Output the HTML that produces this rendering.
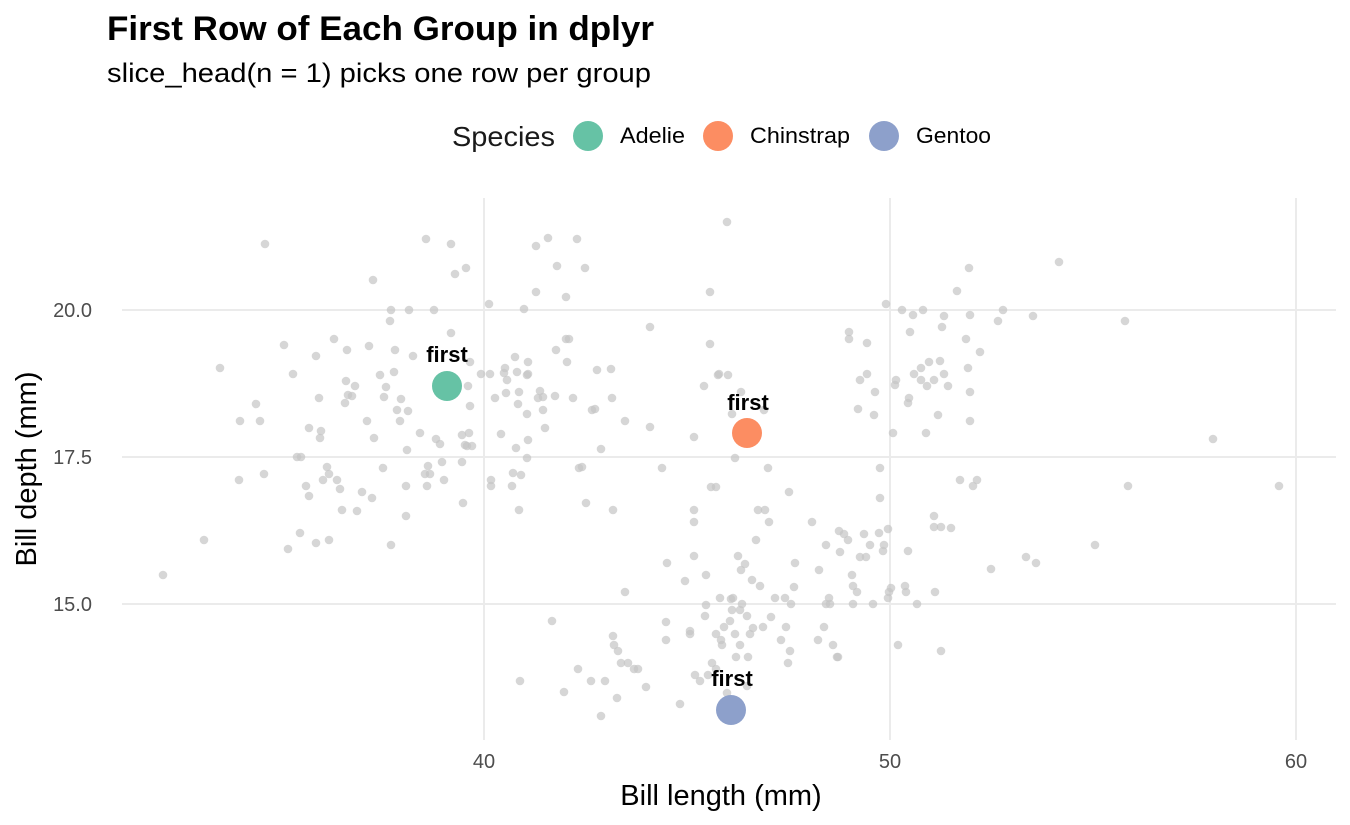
<!DOCTYPE html>
<html><head><meta charset="utf-8"><style>
body{margin:0;background:#fff;}
svg{display:block;font-family:"Liberation Sans",sans-serif;}
</style></head><body>
<svg width="1350" height="825" viewBox="0 0 1350 825">
<rect width="1350" height="825" fill="#fff"/>
<text x="107" y="40" font-size="34" font-weight="bold" fill="#000" textLength="547" lengthAdjust="spacingAndGlyphs">First Row of Each Group in dplyr</text>
<text x="107" y="82" font-size="27" fill="#000" textLength="544" lengthAdjust="spacingAndGlyphs">slice_head(n = 1) picks one row per group</text>
<text x="452" y="146" font-size="28" fill="#1a1a1a" textLength="103" lengthAdjust="spacingAndGlyphs">Species</text>
<circle cx="588" cy="136" r="15" fill="#66C2A5"/>
<text x="620" y="143" font-size="22" fill="#000" textLength="65" lengthAdjust="spacingAndGlyphs">Adelie</text>
<circle cx="718" cy="136" r="15" fill="#FC8D62"/>
<text x="750" y="143" font-size="22" fill="#000" textLength="100" lengthAdjust="spacingAndGlyphs">Chinstrap</text>
<circle cx="884" cy="136" r="15" fill="#8DA0CB"/>
<text x="916" y="143" font-size="22" fill="#000" textLength="75" lengthAdjust="spacingAndGlyphs">Gentoo</text>
<g stroke="#ebebeb" stroke-width="2">
<line x1="484" y1="198" x2="484" y2="740"/><line x1="890" y1="198" x2="890" y2="740"/><line x1="1296" y1="198" x2="1296" y2="740"/>
<line x1="122" y1="310" x2="1336" y2="310"/><line x1="122" y1="457" x2="1336" y2="457"/><line x1="122" y1="604" x2="1336" y2="604"/>
</g>
<g font-size="20" fill="#4d4d4d">
<text x="92" y="317" text-anchor="end">20.0</text><text x="92" y="464" text-anchor="end">17.5</text><text x="92" y="611" text-anchor="end">15.0</text>
<text x="484" y="768" text-anchor="middle">40</text><text x="890" y="768" text-anchor="middle">50</text><text x="1296" y="768" text-anchor="middle">60</text>
</g>
<text x="721" y="805" font-size="29" text-anchor="middle" fill="#000">Bill length (mm)</text>
<text transform="translate(36,469) rotate(-90)" font-size="29" text-anchor="middle" fill="#000">Bill depth (mm)</text>
<g id="pts" fill="#c4c4c4" fill-opacity="0.7"></g>
<circle cx="447" cy="386" r="15" fill="#66C2A5"/>
<circle cx="747" cy="433" r="15" fill="#FC8D62"/>
<circle cx="731" cy="710" r="15" fill="#8DA0CB"/>
<g font-size="22" font-weight="bold" text-anchor="middle" fill="#000">
<text x="447" y="362">first</text><text x="748" y="410">first</text><text x="732" y="686">first</text>
</g>
</svg>
<script>
var p=[[163,575],[204,540],[220,368],[240,421],[256,404],[260,421],[264,474],[239,480],[265,244],[284,345],[288,549],[293,374],[297,457],[301,457],[300,533],[306,486],[309,428],[309,496],[316,356],[316,543],[319,398],[320,438],[321,431],[323,480],[327,467],[329,474],[329,540],[334,339],[337,480],[340,489],[342,510],[345,403],[346,381],[347,350],[348,395],[352,396],[355,386],[357,511],[362,492],[367,421],[369,346],[372,498],[373,280],[374,438],[380,375],[383,468],[384,397],[386,387],[390,321],[391,545],[391,310],[394,372],[395,350],[397,410],[400,421],[401,399],[406,516],[406,486],[407,450],[408,411],[409,310],[413,356],[420,433],[425,474],[426,239],[427,486],[428,466],[430,474],[434,310],[436,439],[439,392],[440,444],[442,462],[444,480],[451,333],[451,244],[455,274],[463,503],[462,435],[462,462],[465,445],[466,268],[467,446],[468,386],[470,406],[469,433],[470,362],[472,446],[481,374],[489,304],[490,374],[491,480],[491,486],[495,398],[501,434],[504,373],[505,368],[506,393],[507,380],[512,486],[513,473],[515,357],[516,448],[517,372],[518,404],[519,392],[519,510],[521,475],[524,309],[527,414],[527,458],[527,375],[528,362],[528,440],[528,374],[536,246],[536,292],[538,398],[540,391],[543,397],[543,410],[545,428],[548,238],[555,396],[556,350],[557,266],[566,297],[566,339],[567,362],[569,339],[573,398],[577,239],[579,468],[582,467],[585,268],[586,503],[592,410],[595,409],[597,370],[601,449],[611,369],[612,398],[613,510],[625,421],[650,327],[650,427],
[520,681],[552,621],[564,692],[578,669],[591,681],[601,716],[605,681],[617,698],[618,651],[625,592],[613,636],[614,645],[621,663],[628,663],[634,669],[638,669],[646,687],[662,468],[667,563],[666,622],[666,640],[680,704],[685,581],[690,631],[690,634],[694,510],[694,522],[694,556],[694,437],[695,675],[700,681],[704,386],[705,616],[706,605],[706,575],[708,675],[710,292],[710,344],[711,487],[712,663],[716,669],[716,634],[716,487],[718,375],[719,374],[720,598],[721,640],[722,645],[724,627],[727,693],[728,375],[727,222],[730,621],[731,599],[732,414],[732,610],[733,598],[735,458],[735,634],[736,657],[738,556],[740,610],[740,645],[741,570],[741,392],[742,604],[745,564],[747,616],[747,686],[748,657],[750,634],[752,580],[753,628],[756,540],[758,510],[760,586],[763,627],[764,410],[765,510],[768,468],[769,522],[771,617],[775,598],[781,640],[785,598],[786,627],[788,663],[789,492],[790,651],[791,604],[794,587],[795,563],[812,522],[818,640],[819,570],[826,545],[824,627],[826,604],[829,598],[830,604],[833,645],[837,657],[838,657],[839,531],[840,552],[844,534],[848,540],[849,339],[849,332],[852,575],[853,586],[853,604],[857,592],[858,409],[860,557],[860,380],[864,534],[866,557],[867,343],[867,374],[870,545],[873,604],[874,415],[875,392],[879,533],[880,468],[880,498],[883,551],[884,545],[886,304],[888,598],[888,529],[889,592],[891,588],[893,433],[895,385],[896,380],[898,645],[902,310],[905,586],[906,592],[908,551],[908,403],[909,398],[910,332],[913,315],[914,374],[917,604],[921,368],[921,380],[923,310],[926,433],[927,386],[929,362],[934,380],[934,516],[934,527],[935,592],[938,415],[940,361],[941,651],[941,527],[942,327],[944,316],[944,374],[948,386],[951,528],[957,291],[960,480],[966,339],[968,368],[969,268],[970,421],[970,315],[970,392],[973,486],[977,480],[980,352],[991,569],[998,321],[1003,310],[1026,557],[1033,316],[1036,563],[1059,262],[1095,545],[1125,321],[1128,486],[1213,439],[1279,486]];
var g=document.getElementById('pts'),s='';
p.forEach(function(a){s+='<circle cx="'+a[0]+'" cy="'+a[1]+'" r="4.3"/>';});
g.innerHTML=s;
</script>
</body></html>
